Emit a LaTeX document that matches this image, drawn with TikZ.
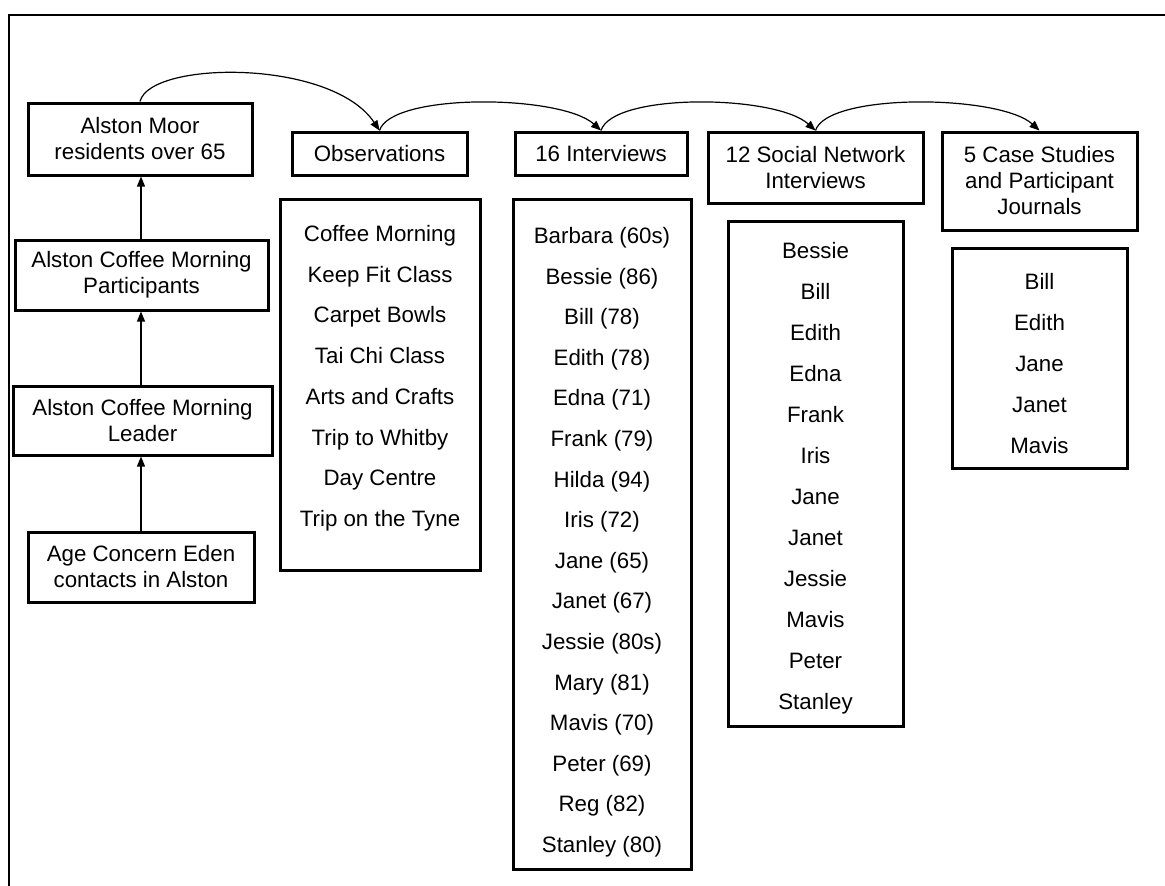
\documentclass[tikz,border=0pt]{standalone}
\usepackage{fontspec}
\setmainfont{Liberation Sans}
\usetikzlibrary{arrows.meta,calc}
\begin{document}
\begin{tikzpicture}[x=1pt,y=-1pt,
  txt/.style={font=\fontsize{22.3}{26}\selectfont},
  box/.style={draw, line width=3pt, align=center, inner sep=0pt, txt},
  listbox/.style={draw, line width=3pt, inner sep=0pt},
  item/.style={anchor=base, inner sep=0pt, txt},
  link/.style={line width=1.2pt, -{Triangle[length=10pt,width=8pt]}}]
\useasboundingbox (0,0) rectangle (1165,886);
% frame
\draw[line width=2pt] (9,886) -- (9,15) -- (1165,15);

% recruitment chain
\node[box, minimum width=224pt, minimum height=72pt] (res) at (140,139) {Alston Moor\\residents over 65};
\node[box, minimum width=253pt, minimum height=70pt] (part) at (141.5,275) {Alston Coffee Morning\\Participants};
\node[box, minimum width=259pt, minimum height=69pt] (lead) at (142.5,420.5) {Alston Coffee Morning\\Leader};
\node[box, minimum width=226pt, minimum height=70pt] (ace) at (141,567) {Age Concern Eden\\contacts in Alston};

\draw[link] (ace.north) -- (ace.north |- lead.south);
\draw[link] (lead.north -| ace.north) -- (ace.north |- part.south);
\draw[link] (part.north -| ace.north) -- (ace.north |- res.south);

% methods
\node[box, minimum width=175pt, minimum height=43pt] (obs) at (379.5,153.5) {Observations};
\node[box, minimum width=172pt, minimum height=43pt] (int) at (601,153.5) {16 Interviews};
\node[box, minimum width=215pt, minimum height=71pt] (soc) at (815.5,167.5) {12 Social Network\\Interviews};
\node[box, minimum width=195pt, minimum height=98pt] (cas) at (1039.5,181) {5 Case Studies\\and Participant\\Journals};

\draw[link] (res.north) .. controls +(10,-41) and +(-48,-72) .. (obs.north);
\draw[link] (obs.north) .. controls +(12,-38) and +(-40,-36) .. (int.north);
\draw[link] (int.north) .. controls +(12,-38) and +(-40,-36) .. (soc.north);
\draw[link] (soc.north) .. controls +(12,-38) and +(-40,-36) .. (cas.north);

% participant lists
\node[listbox, minimum width=200pt, minimum height=371pt] (obsl) at (380,384.5) {};
\node[listbox, minimum width=178pt, minimum height=670pt] (intl) at (602,534) {};
\node[listbox, minimum width=175pt, minimum height=505pt] (socl) at (815.5,473.5) {};
\node[listbox, minimum width=175pt, minimum height=220pt] (casl) at (1039.5,358) {};

\foreach \t [count=\i from 0] in {Coffee Morning, Keep Fit Class, Carpet Bowls, Tai Chi Class, Arts and Crafts, Trip to Whitby, Day Centre, Trip on the Tyne}
  \node[item] (obs-\i) at ($(obsl.north)+(0,44+\i*40.7)$) {\t};
\foreach \t [count=\i from 0] in {Barbara (60s), Bessie (86), Bill (78), Edith (78), Edna (71), Frank (79), Hilda (94), Iris (72), Jane (65), Janet (67), Jessie (80s), Mary (81), Mavis (70), Peter (69), Reg (82), Stanley (80)}
  \node[item] (int-\i) at ($(intl.north)+(0,46+\i*40.6)$) {\t};
\foreach \t [count=\i from 0] in {Bessie, Bill, Edith, Edna, Frank, Iris, Jane, Janet, Jessie, Mavis, Peter, Stanley}
  \node[item] (soc-\i) at ($(socl.north)+(0,39+\i*41)$) {\t};
\foreach \t [count=\i from 0] in {Bill, Edith, Jane, Janet, Mavis}
  \node[item] (cas-\i) at ($(casl.north)+(0,43+\i*41)$) {\t};
\end{tikzpicture}
\end{document}
